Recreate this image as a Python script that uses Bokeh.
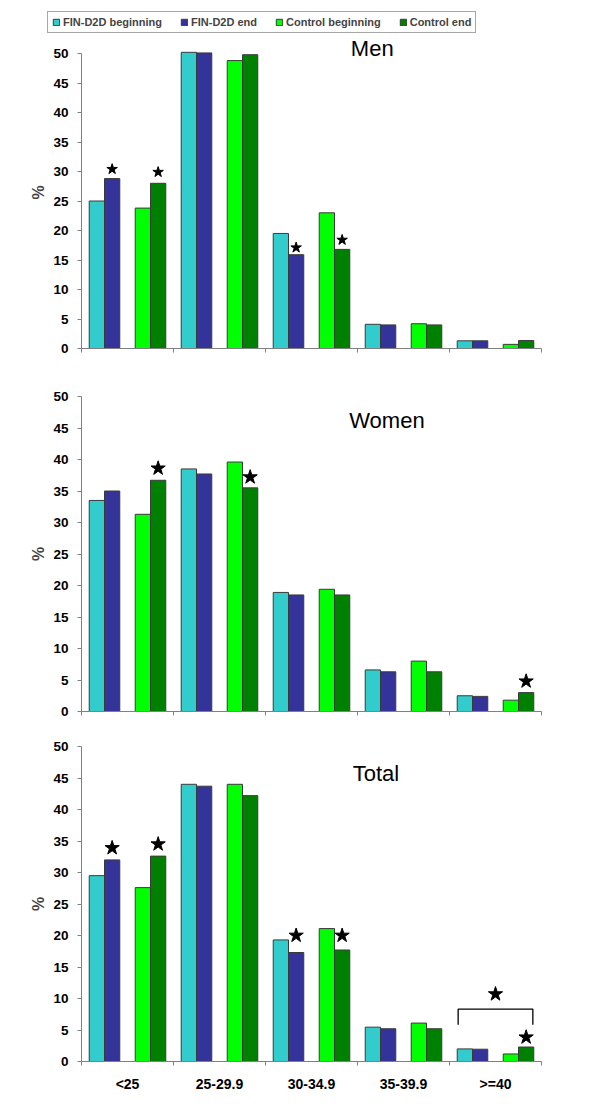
from bokeh.plotting import figure
from bokeh.models import Range1d, FixedTicker, Label, Legend, LegendItem, ColumnDataSource
from bokeh.transform import dodge
from bokeh.layouts import column
from bokeh.embed import file_html
from bokeh.resources import INLINE

categories = ["<25", "25-29.9", "30-34.9", "35-39.9", ">=40"]
series_names = ["FIN-D2D beginning", "FIN-D2D end", "Control beginning", "Control end"]
series_colors = ["#33CCCC", "#333399", "#00FF00", "#008000"]

men_fin_beg = [25.0, 50.2, 19.5, 4.1, 1.3]
men_fin_end = [28.8, 50.1, 15.9, 4.0, 1.3]
men_ctl_beg = [23.8, 48.8, 23.0, 4.2, 0.7]
men_ctl_end = [28.0, 49.8, 16.8, 4.0, 1.35]

women_fin_beg = [33.5, 38.5, 18.9, 6.6, 2.5]
women_fin_end = [35.0, 37.7, 18.5, 6.3, 2.4]
women_ctl_beg = [31.3, 39.6, 19.4, 8.0, 1.8]
women_ctl_end = [36.7, 35.5, 18.5, 6.3, 3.0]

total_fin_beg = [29.5, 44.0, 19.3, 5.45, 2.0]
total_fin_end = [32.0, 43.7, 17.3, 5.2, 1.95]
total_ctl_beg = [27.6, 44.0, 21.1, 6.1, 1.2]
total_ctl_end = [32.6, 42.2, 17.7, 5.2, 2.3]

# significance stars: category index, series index, star level (%)
men_star_cat = [0, 0, 2, 2]
men_star_ser = [1, 3, 1, 3]
men_star_y = [30.4, 29.9, 17.1, 18.4]

women_star_cat = [0, 1, 4]
women_star_ser = [3, 3, 3]
women_star_y = [38.6, 37.2, 4.8]

total_star_cat = [0, 0, 2, 2, 4]
total_star_ser = [1, 3, 1, 3, 3]
total_star_y = [33.9, 34.5, 20.0, 20.0, 3.85]

# bracket over >=40 in Total (levels in %)
bracket_cat = 4
bracket_low = 5.85
bracket_high = 8.3
bracket_star_y = 10.7

y_ticks = [0, 5, 10, 15, 20, 25, 30, 35, 40, 45, 50]

FONT = "Liberation Sans"
AXIS_COL = "#808080"
offsets = [-0.333, -0.167, 0.167, 0.333]
BAR_W = 0.166


def make_panel(title, vals, height, top, bottom, y_end, title_x, title_y,
               star_cat, star_ser, star_y, star_size, labels=False):
    p = figure(width=600, height=height, x_range=Range1d(0, len(categories)),
               y_range=Range1d(0, y_end), output_backend="svg", toolbar_location=None,
               min_border_left=81, min_border_right=59,
               min_border_top=top, min_border_bottom=bottom)
    p.outline_line_color = None
    p.xgrid.visible = False
    p.ygrid.visible = False
    p.background_fill_color = "white"

    centers = [i + 0.5 for i in range(len(categories))]
    src = ColumnDataSource(dict(x=centers, s0=vals[0], s1=vals[1], s2=vals[2], s3=vals[3]))
    for k in range(4):
        p.vbar(x=dodge("x", offsets[k], range=p.x_range), top="s%d" % k, width=BAR_W,
               source=src, fill_color=series_colors[k], line_color="#3a3a3a",
               line_width=1)

    sx = [c + 0.5 + offsets[s] for c, s in zip(star_cat, star_ser)]
    p.scatter(x=sx, y=star_y, marker="star", size=star_size, fill_color="black",
              line_color="black")

    ya = p.yaxis[0]
    ya.ticker = FixedTicker(ticks=y_ticks)
    ya.bounds = (0, 50)
    ya.axis_label = "%"
    ya.axis_label_text_font = FONT
    ya.axis_label_text_font_style = "bold"
    ya.axis_label_text_font_size = "16px"
    ya.axis_label_standoff = 3
    ya.major_label_text_font = FONT
    ya.major_label_text_font_style = "bold"
    ya.major_label_text_font_size = "13.5px"
    ya.major_label_text_color = "black"
    ya.major_label_standoff = 9
    ya.axis_line_color = AXIS_COL
    ya.major_tick_line_color = AXIS_COL
    ya.major_tick_out = 4
    ya.major_tick_in = 0
    ya.minor_tick_line_color = None

    xa = p.xaxis[0]
    xa.axis_line_color = AXIS_COL
    xa.major_tick_line_color = AXIS_COL
    xa.minor_tick_line_color = AXIS_COL
    xa.major_tick_out = 0
    xa.major_tick_in = 0
    xa.minor_tick_out = 4
    xa.minor_tick_in = 0
    boundaries = list(range(len(categories) + 1))
    if labels:
        xa.ticker = FixedTicker(ticks=centers, minor_ticks=boundaries)
        xa.major_label_overrides = {c: lab for c, lab in zip(centers, categories)}
        xa.major_label_standoff = 10
        xa.major_label_text_font = FONT
        xa.major_label_text_font_style = "bold"
        xa.major_label_text_font_size = "14px"
        xa.major_label_text_color = "black"
    else:
        xa.ticker = FixedTicker(ticks=[], minor_ticks=boundaries)
        xa.major_label_standoff = 0

    p.add_layout(Label(x=title_x, y=title_y, text=title, text_font=FONT,
                       text_font_size="22px", text_align="center",
                       text_baseline="middle", text_color="black"))
    return p


# legend strip (its own small figure, so the box can start left of the axes)
pl = figure(width=600, height=36, x_range=Range1d(0, 1), y_range=Range1d(0, 1),
            output_backend="svg", toolbar_location=None, x_axis_location=None,
            y_axis_location=None, min_border_left=0, min_border_right=0,
            min_border_top=0, min_border_bottom=0)
pl.outline_line_color = None
pl.xgrid.visible = False
pl.ygrid.visible = False
leg_items = []
for n, c in zip(series_names, series_colors):
    r = pl.vbar(x=[2.0], top=[0.5], width=0.01, fill_color=c, line_color="#3a3a3a")
    leg_items.append(LegendItem(label=n, renderers=[r]))
legend = Legend(items=leg_items, orientation="horizontal", location=(47, 3),
                border_line_color="#505050", border_line_width=1,
                label_text_font=FONT, label_text_font_style="bold",
                label_text_font_size="11px", glyph_width=8, glyph_height=8,
                label_standoff=3, spacing=18, padding=4, margin=0, label_height=11,
                background_fill_color="white", background_fill_alpha=1)
pl.add_layout(legend, "center")

p1 = make_panel("Men", [men_fin_beg, men_fin_end, men_ctl_beg, men_ctl_end],
                329, 0, 17, 312 / 5.9, 3.16, 50.9,
                men_star_cat, men_star_ser, men_star_y, 11)

p2 = make_panel("Women", [women_fin_beg, women_fin_end, women_ctl_beg, women_ctl_end],
                360, 31, 14, 50, 3.32, 46.2,
                women_star_cat, women_star_ser, women_star_y, 15)

p3 = make_panel("Total", [total_fin_beg, total_fin_end, total_ctl_beg, total_ctl_end],
                385, 21, 49, 50, 3.2, 45.7,
                total_star_cat, total_star_ser, total_star_y, 15, labels=True)
bx0 = bracket_cat + 0.5 + offsets[0] - BAR_W / 2 + 0.01
bx1 = bracket_cat + 0.5 + offsets[3] + BAR_W / 2 - 0.01
p3.line(x=[bx0, bx0, bx1, bx1], y=[bracket_low, bracket_high, bracket_high, bracket_low],
        line_color="black", line_width=1.3)
p3.scatter(x=[bracket_cat + 0.5], y=[bracket_star_y], marker="star", size=15,
           fill_color="black", line_color="black")

layout = column(pl, column(p1, p2, p3, spacing=0), spacing=0)
open("out.html", "w").write(file_html(layout, INLINE))
